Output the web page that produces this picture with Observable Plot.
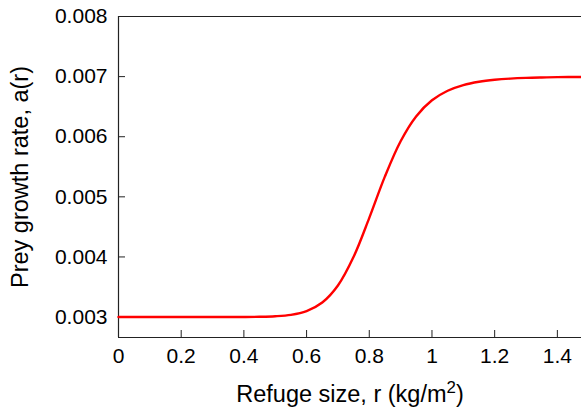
<!DOCTYPE html>
<html>
<head>
<meta charset="utf-8">
<script src="https://cdn.jsdelivr.net/npm/d3@7"></script>
<script src="https://cdn.jsdelivr.net/npm/@observablehq/plot@0.6"></script>
<style>
  html, body { margin: 0; padding: 0; background: white; }
</style>
</head>
<body>
<div id="chart"></div>
<script>
// Refuge size r (kg/m^2) and prey growth rate a(r)
const refuge = [0, 0.1, 0.2, 0.3, 0.4, 0.45, 0.5, 0.55, 0.6, 0.65, 0.7, 0.75, 0.8,
                0.85, 0.9, 0.95, 1.0, 1.05, 1.1, 1.15, 1.2, 1.25, 1.3, 1.35, 1.4, 1.48];
const growth = [0.003, 0.003, 0.003, 0.003, 0.003001, 0.003004, 0.003013, 0.003037, 0.0031,
                0.003242, 0.003525, 0.004002, 0.00465, 0.00534, 0.005925, 0.006341, 0.006606,
                0.006765, 0.006859, 0.006914, 0.006947, 0.006967, 0.006979, 0.006986, 0.006991, 0.006995];
const xTicks = [0, 0.2, 0.4, 0.6, 0.8, 1, 1.2, 1.4];
const yTicks = [0.003, 0.004, 0.005, 0.006, 0.007, 0.008];
const xDomain = [0, 1.477];
const yDomain = [0.00266, 0.008];
const xLabel = "Refuge size, r (kg/m2)";
const yLabel = "Prey growth rate, a(r)";

const data = refuge.map((r, i) => ({r, a: growth[i]}));
const font = "'Liberation Sans', Arial, Helvetica, sans-serif";
const axisColor = "#222";

const chart = Plot.plot({
  width: 581,
  height: 410,
  marginLeft: 118,
  marginRight: 0,
  marginTop: 16,
  marginBottom: 73,
  x: {domain: xDomain},
  y: {domain: yDomain},
  style: {fontFamily: font, fontSize: "21px", background: "white", color: "#000"},
  marks: [
    // inward tick marks
    Plot.axisX(xTicks, {tickSize: 7, dy: -7, tickFormat: () => "", stroke: axisColor, label: null}),
    Plot.axisY(yTicks, {tickSize: 7, dx: 7, tickFormat: () => "", stroke: axisColor, label: null}),
    // tick labels and axis titles
    Plot.axisX(xTicks, {
      tickSize: 0, tickPadding: 11, tickFormat: d => String(d), fontSize: 21,
      label: xLabel, labelAnchor: "center", labelArrow: "none", labelOffset: 64
    }),
    Plot.axisY(yTicks, {
      tickSize: 0, tickPadding: 11, tickFormat: d => d.toFixed(3), fontSize: 21,
      label: yLabel, labelAnchor: "center", labelArrow: "none", labelOffset: 107
    }),
    Plot.ruleX([xDomain[0]], {stroke: axisColor, strokeWidth: 1.2}),
    Plot.ruleY(yDomain, {stroke: axisColor, strokeWidth: 1.2}),
    Plot.line(data, {x: "r", y: "a", stroke: "#ff0000", strokeWidth: 2.4, curve: "catmull-rom"})
  ]
});
document.getElementById("chart").appendChild(chart);

// style the axis titles; superscript the "2" in kg/m2
d3.select(chart).selectAll("g[aria-label='x-axis label'] text, g[aria-label='y-axis label'] text")
  .attr("font-size", 23.5).attr("fill", "#000");
d3.select(chart).selectAll("g[aria-label='x-axis label'] text").each(function () {
  const t = d3.select(this);
  if (t.text() !== xLabel) return;
  t.text(xLabel.slice(0, -2));
  t.append("tspan").attr("dy", "-0.5em").attr("font-size", "0.72em").text(xLabel.slice(-2, -1));
  t.append("tspan").attr("dy", "0.36em").text(xLabel.slice(-1));
});
</script>
</body>
</html>
